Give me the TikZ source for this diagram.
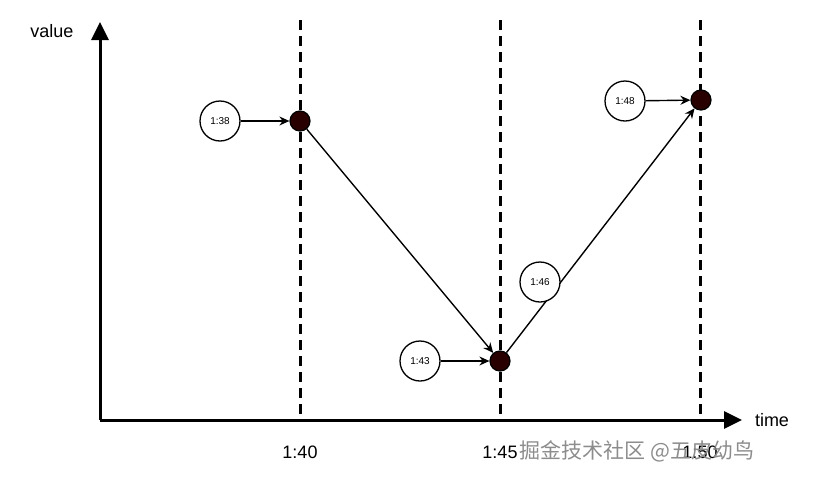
\documentclass[tikz,border=0pt]{standalone}
\usepackage{fontspec}
\setmainfont{Liberation Sans}
\newfontfamily\cjk{Noto Sans CJK SC}
\usetikzlibrary{arrows.meta}
\begin{document}
\begin{tikzpicture}[x=1pt,y=-1pt,
  pt/.style={circle,draw,line width=1.2,fill=black!60!red!40!black,minimum size=20,inner sep=0},
  lab/.style={circle,draw,line width=1.3,fill=white,minimum size=40,inner sep=0,font=\fontsize{10}{12}\selectfont},
  con/.style={-{Stealth[length=10,width=9]},line width=1.4},
  axis/.style={line width=3,-{Triangle[length=18,width=17]}},
  vline/.style={line width=3,dash pattern=on 10 off 6}]
\useasboundingbox (0,0) rectangle (820,480);
\coordinate (o) at (100,420);
\coordinate (ytop) at (100,22);
\coordinate (xend) at (742,420);
\foreach \x/\t in {300/1:40,500/1:45,700/1:50}{
  \draw[vline] (\x,20) -- (\x,420);
  \node[font=\fontsize{18}{21}\selectfont] at (\x,452) {\t};
}
\draw[axis] (o) -- (ytop);
\draw[axis] (o) -- (xend);
\node[font=\fontsize{18}{21}\selectfont] (v) at (52,31) {value};
\node[font=\fontsize{18}{21}\selectfont] (t) at (772,420) {time};
\node[pt] (p1) at (300,121) {};
\node[pt] (p2) at (500,361) {};
\node[pt] (p3) at (701,100) {};
\node[lab] (l1) at (220,121) {1:38};
\node[lab] (l2) at (420,361) {1:43};
\node[lab] (l3) at (625,101) {1:48};
\draw[con] (l1) -- (p1);
\draw[con] (l2) -- (p2);
\draw[con] (l3) -- (p3);
\draw[con] (p1) -- (p2);
\draw[con] (p2) -- (p3);
\node[lab] (l4) at (540,282) {1:46};
\node[font=\cjk\fontsize{21}{24}\selectfont,text=black!45,anchor=west] (wm) at (516,451) {掘金技术社区 @五皮幼鸟};
\end{tikzpicture}
\end{document}
